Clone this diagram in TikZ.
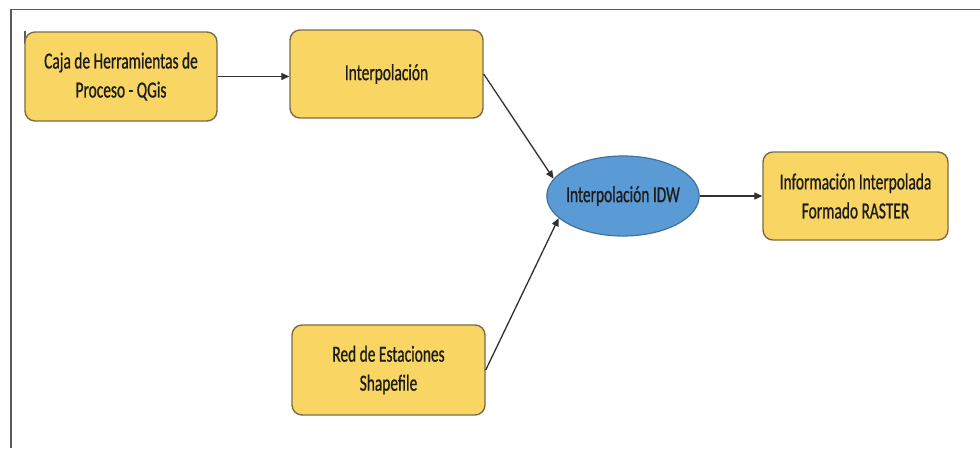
\documentclass[tikz,border=0pt]{standalone}
\usepackage{fontspec}
\setmainfont{Carlito}[FakeStretch=0.67,FakeBold=0.8]
\usetikzlibrary{arrows.meta,shapes.geometric}
\definecolor{boxfill}{HTML}{F9D563}
\definecolor{boxline}{HTML}{7A6E45}
\definecolor{ovalfill}{HTML}{5B9BD5}
\definecolor{ovalline}{HTML}{41719C}
\definecolor{txt}{HTML}{1C1C1C}
\definecolor{frame}{HTML}{5A5A5A}
\definecolor{link}{HTML}{303030}
\tikzset{
  procbox/.style={draw=boxline, fill=boxfill, line width=1.4pt, rounded corners=10pt,
    align=center, text=txt, inner sep=0pt},
  oval/.style={ellipse, draw=ovalline, fill=ovalfill, line width=1.2pt,
    align=center, text=txt, inner xsep=-3pt, inner ysep=0pt},
  link/.style={draw=link, line width=1.3pt, -{Triangle[length=8pt,width=7pt]}},
  every node/.style={font=\fontsize{23}{29}\selectfont}
}
\begin{document}
\begin{tikzpicture}[x=1pt,y=-1pt]
\useasboundingbox (0,0) rectangle (980,448);
\fill[white] (0,0) rectangle (980,448);
% outer frame (top and left edges)
\draw[frame, line width=1.5pt] (11,448) -- (11,9.5) -- (980,9.5);
\draw[frame, line width=1.5pt] (25,31) -- (25,44);

\node[procbox, minimum width=192pt, minimum height=89pt] (b1) at (121,76.5)
  {Caja de Herramientas de\\Proceso - QGis};
\node[procbox, minimum width=193pt, minimum height=88pt] (b2) at (386.5,74)
  {Interpolación};
\node[oval, minimum width=150pt, minimum height=80pt] (idw) at (623,196)
  {Interpolación IDW};
\node[procbox, minimum width=185pt, minimum height=88pt] (b4) at (855.5,196)
  {Información Interpolada\\Formado RASTER};
\node[procbox, minimum width=193pt, minimum height=90pt] (b3) at (388.5,370)
  {Red de Estaciones\\Shapefile};

\draw[link] (b1.east) -- (b1.east -| b2.west);
\draw[link] (b2.east) -- (idw.166);
\draw[link] (b3.east) -- (idw.199);
\draw[link] (idw.east) -- (b4.west);
\end{tikzpicture}
\end{document}
